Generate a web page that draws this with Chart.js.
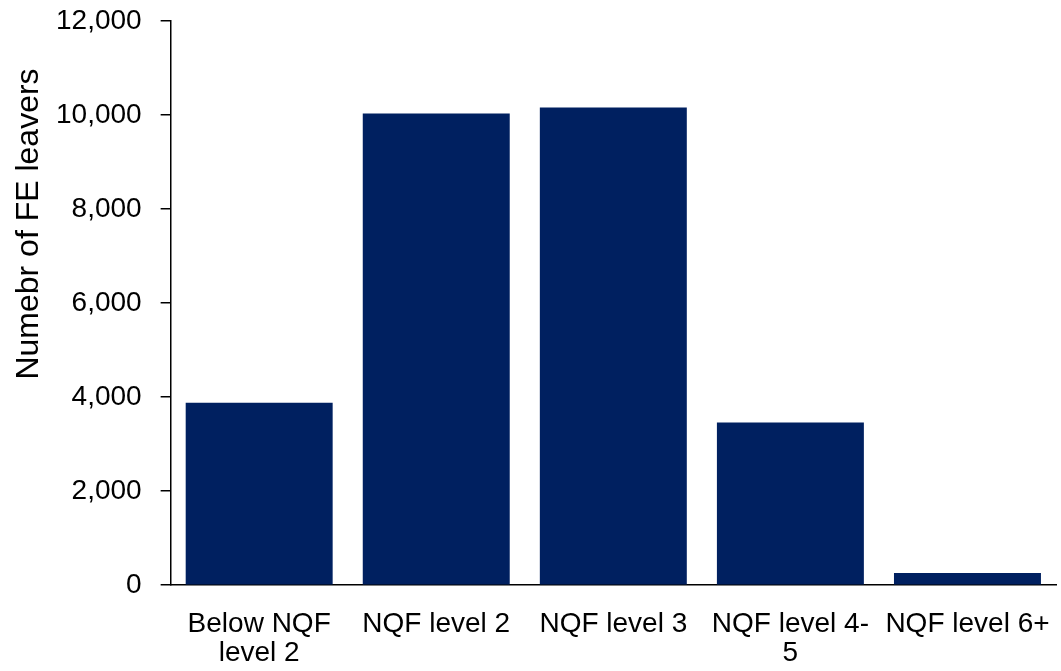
<!DOCTYPE html>
<html>
<head>
<meta charset="utf-8">
<script src="https://cdn.jsdelivr.net/npm/chart.js@4/dist/chart.umd.min.js"></script>
<style>
  html, body { margin: 0; padding: 0; background: #fff; }
</style>
</head>
<body>
<canvas id="barras" width="1061" height="671"></canvas>
<script>
const categorias = [["Below NQF", "level 2"], "NQF level 2", "NQF level 3", ["NQF level 4-", "5"], "NQF level 6+"];
const valores = [3880, 10030, 10160, 3460, 260];
const tituloY = "Numebr of FE leavers";

// titulo del eje Y dibujado a mano (esta desplazado hacia arriba en el original)
const tituloEjeY = {
    id: "tituloEjeY",
    afterDraw(chart) {
        const ctx = chart.ctx;
        ctx.save();
        ctx.translate(38, 224);
        ctx.rotate(-Math.PI / 2);
        ctx.font = "32px 'Liberation Sans', Arial, sans-serif";
        ctx.fillStyle = "#000";
        ctx.textAlign = "center";
        ctx.textBaseline = "alphabetic";
        ctx.fillText(tituloY, 0, 0);
        ctx.restore();
    }
};

function cargaGraficoBarras() {
    const datos = {
        labels: categorias,
        datasets: [{
            label: tituloY,
            backgroundColor: "#002060",
            data: valores,
            barPercentage: 0.83,
            categoryPercentage: 1
        }]
    };

    const config = {
        type: "bar",
        data: datos,
        plugins: [tituloEjeY],
        options: {
            responsive: false,
            maintainAspectRatio: false,
            animation: false,
            layout: { autoPadding: false, padding: { left: 37, right: 5, top: 21, bottom: -2 } },
            plugins: {
                legend: { display: false },
                tooltip: { enabled: false }
            },
            scales: {
                x: {
                    // sin rayitas, pero tickLength sirve de separacion de las etiquetas
                    grid: { display: false, tickLength: 19 },
                    border: { color: "black", width: 1.5 },
                    ticks: {
                        color: "#000",
                        autoSkip: false,
                        maxRotation: 0,
                        padding: 5,
                        font: { family: "'Liberation Sans', Arial, sans-serif", size: 28, lineHeight: 1.05 }
                    }
                },
                y: {
                    min: 0,
                    max: 12000,
                    grid: { drawOnChartArea: false, drawTicks: true, tickLength: 10, color: "black", lineWidth: 1.5 },
                    border: { color: "black", width: 1.5 },
                    ticks: {
                        stepSize: 2000,
                        color: "#000",
                        padding: 19,
                        // lineHeight pequeño para que no empuje el area hacia abajo
                        font: { family: "'Liberation Sans', Arial, sans-serif", size: 28, lineHeight: 0.1 },
                        callback: v => v.toLocaleString("en-US")
                    }
                }
            }
        }
    };

    const ctx = document.getElementById("barras").getContext("2d");
    new Chart(ctx, config);
}

cargaGraficoBarras();
</script>
</body>
</html>
